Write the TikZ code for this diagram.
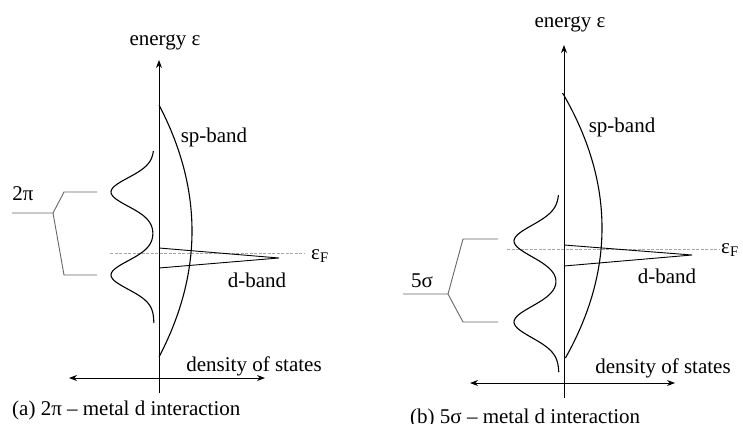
\documentclass[tikz,border=0pt]{standalone}
\usepackage{fontspec}
\setmainfont{Liberation Serif}
\usetikzlibrary{arrows.meta}
\begin{document}
\begin{tikzpicture}[x=1pt,y=-1pt,
  axis/.style={line width=0.9pt, black},
  uptip/.style={-{Stealth[length=8pt,width=6pt]}},
  dtip/.style={{Stealth[length=8pt,width=6pt]}-{Stealth[length=8pt,width=6pt]}},
  curve/.style={line width=1.1pt, black},
  fermi/.style={line width=0.6pt, gray!70, dash pattern=on 3pt off 1.5pt},
  brk/.style={line width=0.9pt, gray!80!black},
  lbl/.style={font=\fontsize{21}{25}\selectfont, inner sep=0pt, anchor=base},
]
\useasboundingbox (0,0) rectangle (743,423);

% ---------------- panel (a) ----------------
\coordinate (aT) at (159,60);
\coordinate (aB) at (159,393);
\coordinate (aL) at (69,378);
\coordinate (aR) at (265,378);
\coordinate (aF1) at (110,253);
\coordinate (aF2) at (305,253);
\draw[fermi] (aF1) -- (aF2);
\draw[axis,uptip] (aB) -- (aT);
\draw[axis,dtip] (aL) -- (aR);
% sp-band
\draw[curve] plot[domain=105:357, samples=70, variable=\t] ({159+33*(1-((\t-231)/126)^2)}, {\t});
% d-band
\coordinate (adA) at (159,248);
\coordinate (adT) at (279,258);
\coordinate (adB) at (159,268);
\draw[curve,line width=0.9pt] (adA) -- (adT) -- (adB);
% 2pi states
\draw[curve] plot[domain=151:323, samples=90, variable=\t] ({154-43*(exp(0-((\t-192)/20)^2)+exp(0-((\t-275)/20)^2))}, {\t});
% bracket
\coordinate (a2) at (12,213);
\coordinate (aj) at (53,213);
\coordinate (aut) at (64,192);
\coordinate (auf) at (97,192);
\coordinate (alt) at (64,275);
\coordinate (alf) at (97,275);
\draw[brk] (a2) -- (aj) -- (aut) -- (auf);
\draw[brk] (aj) -- (alt) -- (alf);
% labels
\node[lbl] (aen) at (165,45) {energy ε};
\node[lbl] (asp) at (214,142) {sp-band};
\node[lbl,anchor=base west] (aef) at (311,259) {ε\textsubscript{F}};
\node[lbl] (adb) at (257,287) {d-band};
\node[lbl] (api) at (23,200) {2π};
\node[lbl] (ados) at (254,371) {density of states};
\node[lbl,anchor=base west] (acap) at (12,415) {(a) 2π – metal d interaction};

% ---------------- panel (b) ----------------
\coordinate (bT) at (564,45);
\coordinate (bB) at (564,398);
\coordinate (bL) at (470,383);
\coordinate (bR) at (675,383);
\coordinate (bF1) at (507,249);
\coordinate (bF2) at (720,249);
\draw[fermi] (bF1) -- (bF2);
\draw[axis,uptip] (bB) -- (bT);
\draw[axis,dtip] (bL) -- (bR);
% sp-band
\draw[curve] plot[domain=93:358, samples=70, variable=\t] ({564+38*(1-((\t-228)/132.5)^2)}, {\t});
% d-band
\coordinate (bdA) at (564,245);
\coordinate (bdT) at (692,255);
\coordinate (bdB) at (564,266);
\draw[curve,line width=0.9pt] (bdA) -- (bdT) -- (bdB);
% 5sigma states
\draw[curve] plot[domain=195:372, samples=90, variable=\t] ({559-45*(exp(0-((\t-241)/22)^2)+exp(0-((\t-322)/22)^2))}, {\t});
% bracket
\coordinate (b2) at (403,294);
\coordinate (bj) at (448,294);
\coordinate (but) at (463,239);
\coordinate (buf) at (498,239);
\coordinate (blt) at (463,322);
\coordinate (blf) at (498,322);
\draw[brk] (b2) -- (bj) -- (but) -- (buf);
\draw[brk] (bj) -- (blt) -- (blf);
% labels
\node[lbl] (ben) at (570,27) {energy ε};
\node[lbl] (bsp) at (622,132) {sp-band};
\node[lbl,anchor=base west] (bef) at (721,253) {ε\textsubscript{F}};
\node[lbl] (bdb) at (667,283) {d-band};
\node[lbl] (bsig) at (422,287) {5σ};
\node[lbl] (bdos) at (663,373) {density of states};
\node[lbl,anchor=base west] (bcap) at (410,423) {(b) 5σ – metal d interaction};
\end{tikzpicture}
\end{document}
